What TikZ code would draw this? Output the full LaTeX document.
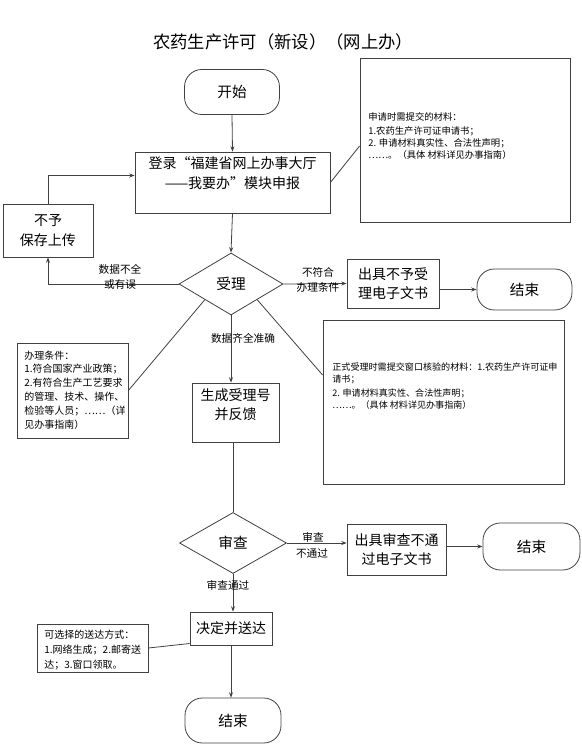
\documentclass[tikz,border=0pt]{standalone}
\usepackage{fontspec}
\setmainfont{Noto Sans CJK SC}
\usetikzlibrary{arrows.meta,shapes.geometric,calc}
\begin{document}
\begin{tikzpicture}[x=0.75pt,y=-0.75pt,
  line width=0.6pt, draw={black!75},
  arr/.style={-{Stealth[length=4pt,width=3pt]}},
  proc/.style={draw, rectangle, inner sep=0pt, align=center, font=\fontsize{10.5}{14.5}\selectfont},
  term/.style={draw, rectangle, rounded corners=13pt, inner sep=0pt, align=center, font=\fontsize{11}{14}\selectfont},
  dec/.style={draw, diamond, inner sep=0pt, align=center, font=\fontsize{11}{14}\selectfont},
  notebox/.style={draw, rectangle, inner sep=0pt},
  notetext/.style={anchor=west, inner sep=0pt, align=left},
  lbl/.style={inner sep=0pt, align=center, font=\fontsize{8}{11}\selectfont}]
\useasboundingbox (0,0) rectangle (582,754);

\node[inner sep=0pt, font=\fontsize{13}{16}\selectfont] (title) at (283,42) {农药生产许可（新设）（网上办）};

\node[term, minimum width=71.25pt, minimum height=33.75pt] (start) at (232,92) {开始};
\node[proc, minimum width=146.25pt, minimum height=45.75pt] (login) at (232.5,182.5) {登录“福建省网上办事大厅\\——我要办”模块申报\\[-4pt]\strut};
\node[notebox, minimum width=157.5pt, minimum height=123pt] (note1) at (465,140) {};
\node[notetext, font=\fontsize{7}{9}\selectfont] (note1t) at (368,136) {申请时需提交的材料：\\[2pt]1.农药生产许可证申请书；\\2. 申请材料真实性、合法性声明；\\……。（具体 材料详见办事指南）};

\node[dec, minimum width=78pt, minimum height=46.5pt] (d1) at (231,284) {受理};
\node[proc, minimum width=67.5pt, minimum height=39.75pt] (rej) at (48,230.5) {不予\\保存上传};
\node[proc, minimum width=69pt, minimum height=36.75pt] (b2) at (393,283.5) {出具不予受\\理电子文书};
\node[term, minimum width=71.25pt, minimum height=30.75pt] (end1) at (524.5,289.5) {结束};

\node[proc, minimum width=65.25pt, minimum height=44.25pt] (b3) at (235.5,412.5) {生成受理号\\并反馈\\[-6pt]\strut};
\node[notebox, minimum width=83.25pt, minimum height=71.25pt] (note2) at (72.5,390.5) {};
\node[notetext, font=\fontsize{7.5}{10.4}\selectfont] (note2t) at (24,390) {办理条件：\\1.符合国家产业政策；\\2.有符合生产工艺要求\\的管理、技术、操作、\\检验等人员；……（详\\见办事指南）};
\node[notebox, minimum width=180.75pt, minimum height=123pt] (note3) at (443.5,402) {};
\node[notetext, font=\fontsize{6.8}{9}\selectfont] (note3t) at (332,386) {正式受理时需提交窗口核验的材料：1.农药生产许可证申\\请书；\\[1pt]2. 申请材料真实性、合法性声明；\\……。（具体 材料详见办事指南）};

\node[dec, minimum width=80.25pt, minimum height=45.75pt] (d2) at (233,543) {审查};
\node[proc, minimum width=74.25pt, minimum height=38.25pt] (b4) at (396.5,549.5) {出具审查不通\\过电子文书};
\node[term, minimum width=72.75pt, minimum height=35.25pt] (end2) at (531.5,546.5) {结束};

\node[proc, minimum width=61.5pt, minimum height=24.75pt] (b5) at (231,628.5) {决定并送达};
\node[notebox, minimum width=83.25pt, minimum height=36pt] (note4) at (92.5,648) {};
\node[notetext, font=\fontsize{7.5}{11.3}\selectfont] (note4t) at (44,650) {可选择的送达方式：\\1.网络生成；2.邮寄送\\达；3.窗口领取。};
\node[term, minimum width=72pt, minimum height=33.75pt] (end3) at (233,720.5) {结束};

% connectors
\draw[arr] (start.south) -- (login.north);
\draw (login.east) -- ($(note1.west)+(0,6)$);
\draw[arr] (login.south) -- (d1.north);
\draw[arr] (d1.west) -| (rej.south);
\draw[arr] (rej.north) |- ($(login.west)+(0,-7)$);
\draw[arr] (d1.east) -- (b2.west);
\draw[arr] (b2.east |- end1.west) -- (end1.west);
\draw[arr] (d1.south) -- (d1.south |- b3.north);
\draw (d1.south west) -- (note2.east);
\draw (d1.south east) -- ($(note3.west)+(0,-27)$);
\draw (d2.north |- b3.south) -- (d2.north);
\draw[arr] (d2.east) -- (b4.west |- d2.east);
\draw[arr] (b4.east |- end2.west) -- (end2.west);
\draw[arr] (d2.south) -- (d2.south |- b5.north);
\draw (note4.east) -- ($(b5.west)+(0,15)$);
\draw[arr] (b5.south) -- (b5.south |- end3.north);

% labels
\node[lbl] (l1) at (120,277) {数据不全\\或有误};
\node[lbl] (l2) at (318,280) {不符合\\办理条件};
\node[lbl] (l3) at (243,338) {数据齐全准确};
\node[lbl] (l4) at (313,537) {审查};
\node[lbl] (l5) at (312,553) {不通过};
\node[lbl] (l6) at (228,585) {审查通过};
\end{tikzpicture}
\end{document}
